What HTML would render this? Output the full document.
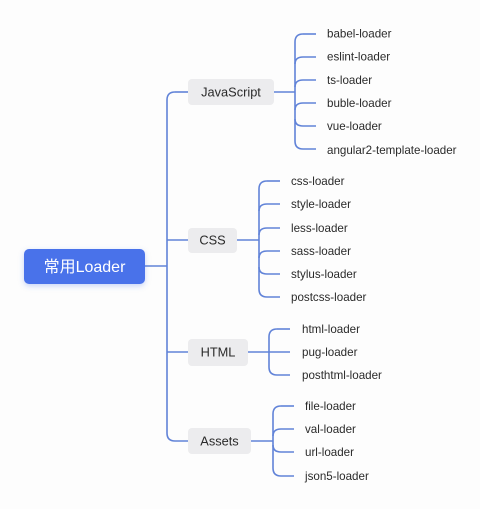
<!DOCTYPE html>
<html><head><meta charset="utf-8"><style>
html,body{margin:0;padding:0;background:#fdfdfd;}
svg{display:block;}
text{font-family:"Liberation Sans","Noto Sans CJK SC",sans-serif;}
.l{font-size:11.6px;fill:#2a2a2a;}
.c{font-size:12.8px;fill:#2a2a2a;text-anchor:middle;}
</style></head><body>
<svg width="480" height="509" viewBox="0 0 480 509" xmlns="http://www.w3.org/2000/svg">
<defs><filter id="sh" x="-20%" y="-30%" width="140%" height="170%"><feDropShadow dx="0" dy="2" stdDeviation="3" flood-color="#4a72ea" flood-opacity="0.3"/></filter></defs>
<g fill="none" stroke="#6183d8" stroke-width="1.6">
<path d="M145 266 H167"/>
<path d="M175 92 Q167 92 167 100 V433 Q167 441 175 441 H188"/>
<path d="M175 92 H188"/>
<path d="M167 240 H188"/>
<path d="M167 352 H188"/>
<path d="M274 92 H295"/>
<path d="M303 34 Q295 34 295 42 V141 Q295 149 303 149 H316"/>
<path d="M303 34 H316"/>
<path d="M295 64 Q295 57 303 57 H316"/>
<path d="M295 87 Q295 80 303 80 H316"/>
<path d="M295 110 Q295 103 303 103 H316"/>
<path d="M295 119 Q295 126 303 126 H316"/>
<path d="M237 240 H259"/>
<path d="M267 181 Q259 181 259 189 V289 Q259 297 267 297 H280"/>
<path d="M267 181 H280"/>
<path d="M259 211 Q259 204 267 204 H280"/>
<path d="M259 235 Q259 228 267 228 H280"/>
<path d="M259 258 Q259 251 267 251 H280"/>
<path d="M259 267 Q259 274 267 274 H280"/>
<path d="M248 352 H290"/>
<path d="M277 329 Q269 329 269 337 V367 Q269 375 277 375 H290"/>
<path d="M277 329 H290"/>
<path d="M251 441 H273"/>
<path d="M281 406 Q273 406 273 414 V468 Q273 476 281 476 H294"/>
<path d="M281 406 H294"/>
<path d="M273 436 Q273 429 281 429 H294"/>
<path d="M273 445 Q273 452 281 452 H294"/>
</g>
<rect x="24" y="249" width="121" height="35" rx="5" fill="#4a72ea" filter="url(#sh)"/>
<text x="84.5" y="272" text-anchor="middle" font-size="16" fill="#fff">常用Loader</text>
<g fill="#ececee">
<rect x="188" y="79" width="86" height="26" rx="4"/>
<rect x="188" y="228" width="49" height="25" rx="4"/>
<rect x="188" y="339" width="60" height="27" rx="4"/>
<rect x="188" y="428" width="63" height="26" rx="4"/>
</g>
<text class="c" x="231" y="96.5">JavaScript</text>
<text class="c" x="212.5" y="244.5">CSS</text>
<text class="c" x="218" y="356.5">HTML</text>
<text class="c" x="219.5" y="445.5">Assets</text>
<text class="l" x="327" y="37.5">babel-loader</text>
<text class="l" x="327" y="60.5">eslint-loader</text>
<text class="l" x="327" y="84">ts-loader</text>
<text class="l" x="327" y="107">buble-loader</text>
<text class="l" x="327" y="130">vue-loader</text>
<text class="l" x="327" y="154">angular2-template-loader</text>
<text class="l" x="291" y="185">css-loader</text>
<text class="l" x="291" y="208">style-loader</text>
<text class="l" x="291" y="232">less-loader</text>
<text class="l" x="291" y="255">sass-loader</text>
<text class="l" x="291" y="278">stylus-loader</text>
<text class="l" x="291" y="301">postcss-loader</text>
<text class="l" x="302" y="333">html-loader</text>
<text class="l" x="302" y="356">pug-loader</text>
<text class="l" x="302" y="379">posthtml-loader</text>
<text class="l" x="305" y="410">file-loader</text>
<text class="l" x="305" y="433">val-loader</text>
<text class="l" x="305" y="456">url-loader</text>
<text class="l" x="305" y="480">json5-loader</text>
</svg>
</body></html>
